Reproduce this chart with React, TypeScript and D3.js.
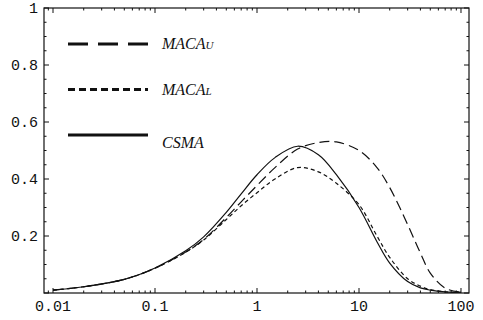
import React, { useRef, useEffect } from 'react';
import * as d3 from 'd3';

// load values
const xs = [0.01, 0.02, 0.05, 0.1, 0.2, 0.3, 0.5, 0.7, 1, 1.5, 2.5, 4, 6, 10, 15, 20, 30, 40, 50, 70, 100];
const csma = [0.01, 0.022, 0.048, 0.088, 0.148, 0.197, 0.283, 0.348, 0.415, 0.475, 0.515, 0.485, 0.415, 0.3, 0.18, 0.105, 0.04, 0.018, 0.01, 0.004, 0.002];
const macaL = [0.01, 0.022, 0.048, 0.087, 0.143, 0.186, 0.258, 0.306, 0.352, 0.4, 0.44, 0.425, 0.385, 0.31, 0.2, 0.125, 0.05, 0.024, 0.012, 0.004, 0.002];
const macaU = [0.01, 0.022, 0.048, 0.087, 0.144, 0.188, 0.265, 0.32, 0.377, 0.44, 0.505, 0.528, 0.53, 0.5, 0.44, 0.37, 0.24, 0.14, 0.07, 0.017, 0.003];

const xTicks = [0.01, 0.1, 1, 10, 100];
const xTickLabels = ['0.01', '0.1', '1', '10', '100'];
const yTicks = [0.2, 0.4, 0.6, 0.8, 1];
const yTickLabels = ['0.2', '0.4', '0.6', '0.8', '1'];

const legendItems = [
    { name: 'MACA', sub: 'U', dash: '20,10', width: 3.2 },
    { name: 'MACA', sub: 'L', dash: '7,4', width: 3.2 },
    { name: 'CSMA', sub: '', dash: null, width: 3.2 },
];

const W = 483;
const H = 320;

const App = () => {
    const svgRef = useRef(null);

    useEffect(() => {
        const svg = d3.select(svgRef.current);
        svg.selectAll('*').remove();

        const left = 44, right = 469, top = 8, bottom = 293;

        const x = d3.scaleLog().domain([0.00816, 119.8]).range([left, right]);
        const y = d3.scaleLinear().domain([0, 1]).range([bottom, top]);

        const ink = '#111';
        const mono = '"Liberation Mono", "DejaVu Sans Mono", monospace';

        // frame
        svg.append('rect')
            .attr('x', left).attr('y', top)
            .attr('width', right - left).attr('height', bottom - top)
            .attr('fill', 'none').attr('stroke', ink).attr('stroke-width', 1.2);

        // x ticks (log, with minors) on bottom and top
        const minorX = [];
        for (let e = -3; e <= 2; e++) {
            for (let m = 1; m <= 9; m++) {
                const v = m * Math.pow(10, e);
                if (v > x.domain()[0] && v < x.domain()[1]) minorX.push({ v, major: m === 1 });
            }
        }
        minorX.forEach(t => {
            const len = t.major ? 5 : 2.5;
            svg.append('line').attr('x1', x(t.v)).attr('x2', x(t.v))
                .attr('y1', bottom).attr('y2', bottom - len)
                .attr('stroke', ink).attr('stroke-width', 1);
            svg.append('line').attr('x1', x(t.v)).attr('x2', x(t.v))
                .attr('y1', top).attr('y2', top + len)
                .attr('stroke', ink).attr('stroke-width', 1);
        });

        // y ticks on left and right
        d3.range(0, 1.0001, 0.05).forEach(v => {
            const major = Math.abs(v * 5 - Math.round(v * 5)) < 1e-6;
            const len = major ? 5 : 2.5;
            svg.append('line').attr('x1', left).attr('x2', left + len)
                .attr('y1', y(v)).attr('y2', y(v))
                .attr('stroke', ink).attr('stroke-width', 1);
            svg.append('line').attr('x1', right).attr('x2', right - len)
                .attr('y1', y(v)).attr('y2', y(v))
                .attr('stroke', ink).attr('stroke-width', 1);
        });

        svg.selectAll('text.xl')
            .data(xTicks)
            .enter()
            .append('text')
            .attr('class', 'xl')
            .attr('x', d => x(d))
            .attr('y', bottom + 18)
            .attr('text-anchor', 'middle')
            .style('font-family', mono)
            .style('font-size', '15px')
            .attr('fill', ink)
            .text((d, i) => xTickLabels[i]);

        svg.selectAll('text.yl')
            .data(yTicks)
            .enter()
            .append('text')
            .attr('class', 'yl')
            .attr('x', left - 6)
            .attr('y', d => y(d) + 5)
            .attr('text-anchor', 'end')
            .style('font-family', mono)
            .style('font-size', '15px')
            .attr('fill', ink)
            .text((d, i) => yTickLabels[i]);

        const line = d3.line()
            .x(d => x(d[0]))
            .y(d => y(d[1]))
            .curve(d3.curveCatmullRom.alpha(0.5));

        const series = [
            { vals: macaU, dash: '10,5' },
            { vals: macaL, dash: '4,3' },
            { vals: csma, dash: null },
        ];

        series.forEach(s => {
            svg.append('path')
                .datum(xs.map((v, i) => [v, s.vals[i]]))
                .attr('d', line)
                .attr('fill', 'none')
                .attr('stroke', ink)
                .attr('stroke-width', 1.2)
                .attr('stroke-dasharray', s.dash);
        });

        // legend
        const lg = svg.append('g');
        legendItems.forEach((item, i) => {
            const ly = 44 + i * 45.5;
            lg.append('line')
                .attr('x1', 68).attr('x2', 148)
                .attr('y1', ly).attr('y2', ly)
                .attr('stroke', ink)
                .attr('stroke-width', item.width)
                .attr('stroke-dasharray', item.dash);
            const t = lg.append('text')
                .attr('x', 162)
                .attr('y', ly + 5 + (i === 2 ? 8 : 0))
                .style('font-family', '"Liberation Serif", "DejaVu Serif", serif')
                .style('font-style', 'italic')
                .style('font-size', '16px')
                .attr('fill', ink);
            t.append('tspan').text(item.name);
            if (item.sub) {
                t.append('tspan').style('font-size', '11px').text(item.sub);
            }
        });
    }, []);

    return (
        <svg ref={svgRef} width={W} height={H}
            style={{ position: 'absolute', left: 0, top: 0, background: '#fff' }} />
    );
};

export default App;
